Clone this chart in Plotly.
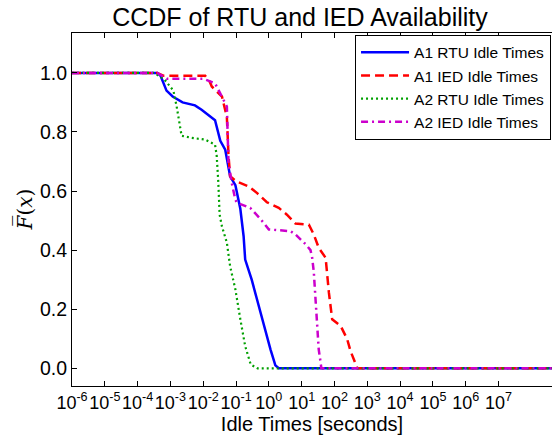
import plotly.graph_objects as go

# A1 RTU idle times (seconds) and CCDF
a1_rtu_x = [1e-6, 3.98e-4, 5.0e-4, 7.6e-4, 1.17e-3, 2.34e-3, 5.6e-3, 8.9e-3, 0.0229, 0.0331, 0.0468,
            0.066, 0.0955, 0.135, 0.17, 0.19, 0.30, 0.62, 1.12, 1.58, 2.0, 5e8]
a1_rtu_y = [1.0, 1.0, 0.99, 0.94, 0.92, 0.90, 0.89, 0.875, 0.84, 0.77, 0.74,
            0.65, 0.62, 0.54, 0.447, 0.368, 0.30, 0.166, 0.064, 0.01, 0.0, 0.0]

# A1 IED
a1_ied_x = [1e-6, 3.98e-4, 6.3e-4, 0.0115, 0.0158, 0.0182, 0.0372, 0.0525, 0.0589, 0.066, 0.1,
            0.24, 0.44, 0.87, 2.0, 3.55, 6.46, 16.6, 23.4, 33.1, 53.7, 60.3, 67.6, 85.1,
            155.0, 245.0, 309.0, 447.0, 500.0, 5e8]
a1_ied_y = [1.0, 1.0, 0.99, 0.99, 0.97, 0.954, 0.92, 0.85, 0.72, 0.65, 0.633,
            0.616, 0.593, 0.562, 0.543, 0.52, 0.49, 0.486, 0.453, 0.408, 0.374, 0.31, 0.256, 0.166,
            0.143, 0.098, 0.058, 0.0135, 0.0, 0.0]

# A2 RTU
a2_rtu_x = [1e-6, 3.16e-4, 6.3e-4, 1.23e-3, 1.55e-3, 2.19e-3, 4.47e-3, 0.0115, 0.0229, 0.0257,
            0.0288, 0.0316, 0.0372, 0.0525, 0.066, 0.0955, 0.135, 0.19, 0.28, 0.45, 5e8]
a2_rtu_y = [1.0, 1.0, 0.98, 0.94, 0.886, 0.787, 0.78, 0.774, 0.757, 0.72,
            0.63, 0.52, 0.48, 0.425, 0.345, 0.267, 0.166, 0.075, 0.013, 0.0, 0.0]

# A2 IED
a2_ied_x = [1e-6, 3.98e-4, 7.9e-4, 0.01, 0.0229, 0.0372, 0.0525, 0.0589, 0.0741, 0.0955, 0.107,
            0.269, 0.55, 1.0, 2.82, 4.57, 6.46, 13.2, 18.6, 20.9, 23.4, 26.3, 29.5, 33.1, 37.2,
            39.8, 5e8]
a2_ied_y = [1.0, 1.0, 0.98, 0.98, 0.965, 0.92, 0.886, 0.695, 0.627, 0.57, 0.56,
            0.543, 0.506, 0.47, 0.466, 0.464, 0.453, 0.42, 0.40, 0.374, 0.327, 0.244, 0.143, 0.064, 0.025,
            0.0, 0.0]

tick_vals = [1e-6, 1e-5, 1e-4, 1e-3, 1e-2, 1e-1, 1e0, 1e1, 1e2, 1e3, 1e4, 1e5, 1e6, 1e7]
tick_text = ["10<sup>-6</sup>", "10<sup>-5</sup>", "10<sup>-4</sup>", "10<sup>-3</sup>",
             "10<sup>-2</sup>", "10<sup>-1</sup>", "10<sup>0</sup>", "10<sup>1</sup>",
             "10<sup>2</sup>", "10<sup>3</sup>", "10<sup>4</sup>", "10<sup>5</sup>",
             "10<sup>6</sup>", "10<sup>7</sup>"]
y_ticks = [0.0, 0.2, 0.4, 0.6, 0.8, 1.0]
y_tick_text = ["0.0", "0.2", "0.4", "0.6", "0.8", "1.0"]

fig = go.Figure()
fig.add_trace(go.Scatter(x=a1_rtu_x, y=a1_rtu_y, mode="lines", name="A1 RTU Idle Times",
                         line=dict(color="#0000ff", width=2.5)))
fig.add_trace(go.Scatter(x=a1_ied_x, y=a1_ied_y, mode="lines", name="A1 IED Idle Times",
                         line=dict(color="#ff0000", width=2.5, dash="9px,5px")))
fig.add_trace(go.Scatter(x=a2_rtu_x, y=a2_rtu_y, mode="lines", name="A2 RTU Idle Times",
                         line=dict(color="#00a000", width=2.2, dash="2px,3px")))
fig.add_trace(go.Scatter(x=a2_ied_x, y=a2_ied_y, mode="lines", name="A2 IED Idle Times",
                         line=dict(color="#cc00cc", width=2.5, dash="7px,4px,2px,4px")))

fig.update_layout(
    width=552, height=441,
    margin=dict(l=72, r=0, t=33, b=55, autoexpand=False),
    paper_bgcolor="white", plot_bgcolor="white",
    font=dict(family="Liberation Sans, Arial, sans-serif", color="black"),
    title=dict(text="CCDF of RTU and IED Availability", font=dict(size=25, color="black"),
               x=(300 - 72) / 480, xref="paper", xanchor="center", y=0.962, yanchor="middle"),
    showlegend=True,
    legend=dict(x=0.998, y=0.995, xanchor="right", yanchor="top",
                bgcolor="white", bordercolor="black", borderwidth=1,
                font=dict(size=15.5, color="black"), itemwidth=48, tracegroupgap=0),
    xaxis=dict(type="log", range=[-6, 8.63], tickvals=tick_vals, ticktext=tick_text,
               tickangle=0,
               ticks="inside", ticklen=5, tickcolor="black", showline=True, linecolor="black",
               linewidth=1, mirror="ticks", showgrid=False, zeroline=False,
               tickfont=dict(size=18, color="black"),
               title=dict(text="Idle Times [seconds]", font=dict(size=20, color="black"), standoff=4)),
    yaxis=dict(range=[-0.06, 1.135], tickvals=y_ticks, ticktext=y_tick_text,
               ticks="inside", ticklen=5, tickcolor="black", showline=True, linecolor="black",
               linewidth=1, showgrid=False, zeroline=False,
               tickfont=dict(size=19.5, color="black")),
    annotations=[dict(text="<i>F\u0305</i>(<i>x</i>)", xref="paper", yref="paper", x=0, y=0.5,
                      xshift=-47, xanchor="center", yanchor="middle", textangle=-90, showarrow=False,
                      font=dict(family="DejaVu Serif, serif", size=20, color="black"))],
)

fig.write_html("out.html")
